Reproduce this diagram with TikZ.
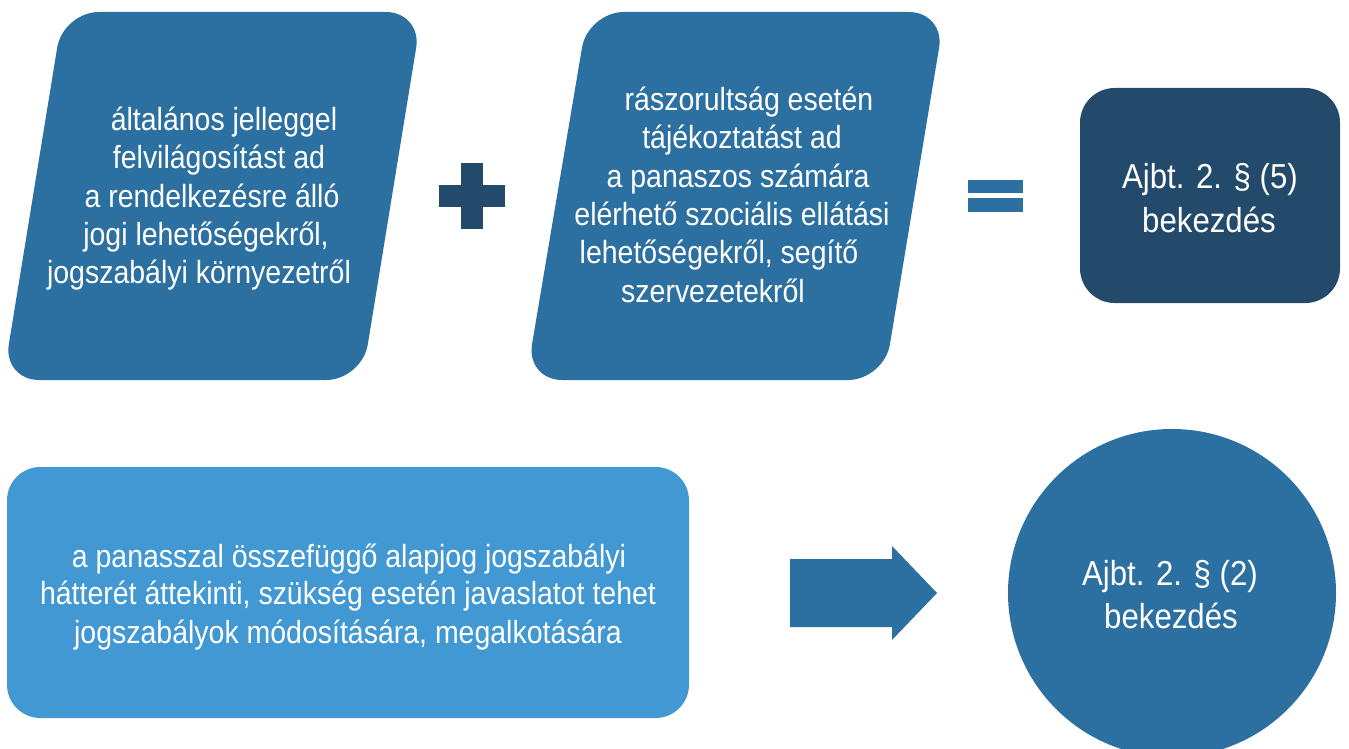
\documentclass[tikz,border=0pt]{standalone}
\usepackage{fontspec}
\setmainfont{Liberation Sans}[FakeStretch=0.89]
\newfontfamily\lblfont{Liberation Sans}[FakeStretch=0.9]
\definecolor{midblue}{HTML}{2C6FA1}
\definecolor{navy}{HTML}{234A6B}
\definecolor{lightblue}{HTML}{4298D2}
\begin{document}
\begin{tikzpicture}[x=0.75pt,y=-0.75pt,
  txt/.style={text=white,font=\fontsize{24}{28}\selectfont,anchor=base,inner sep=0pt},
  lbl/.style={text=white,font=\lblfont\fontsize{26}{30}\selectfont,anchor=base,inner sep=0pt},
  boxshape/.style={inner sep=0pt,draw=none}]
\useasboundingbox (0,0) rectangle (1349,749);
% parallelogram 1
\fill[midblue, rounded corners=27pt] (240,12) -- (422,12) -- (362,380) -- (3,380) -- (63,12) -- cycle;
% parallelogram 2
\fill[midblue, rounded corners=27pt] (760,12) -- (945,12) -- (884,380) -- (526,380) -- (588,12) -- cycle;
% plus
\fill[navy] (439,185) rectangle (505,207);
\fill[navy] (461,163) rectangle (483,229);
% equals
\fill[midblue] (968,180) rectangle (1023,193);
\fill[midblue] (968,198) rectangle (1023,212);
% result box 1
\node[boxshape, fill=navy, rounded corners=26pt, minimum width=195pt, minimum height=161.25pt] (res1) at (1210,195.5) {};
% bottom box
\node[boxshape, fill=lightblue, rounded corners=25pt, minimum width=511.5pt, minimum height=188.25pt] (bot) at (348,592.5) {};
% arrow
\fill[midblue] (790,559) -- (892,559) -- (892,546) -- (937,593) -- (892,640) -- (892,627) -- (790,627) -- cycle;
% circle
\node[boxshape, circle, fill=midblue, minimum size=246pt] (res2) at (1172,593) {};
% texts parallelogram 1
\node[txt] (a1) at (224,130) {általános jelleggel};
\node[txt] (a2) at (219,168) {felvilágosítást ad};
\node[txt] (a3) at (212,207) {a rendelkezésre álló};
\node[txt] (a4) at (206,245) {jogi lehetőségekről,};
\node[txt] (a5) at (199,283) {jogszabályi környezetről};
% texts parallelogram 2
\node[txt] (b1) at (749,110) {rászorultság esetén};
\node[txt] (b2) at (742,148) {tájékoztatást ad};
\node[txt] (b3) at (738,187) {a panaszos számára};
\node[txt] (b4) at (732,225) {elérhető szociális ellátási};
\node[txt] (b5) at (719,263) {lehetőségekről, segítő};
\node[txt] (b6) at (713,302) {szervezetekről};
% result labels
\node[lbl] (r1a) at (1210,188) {Ajbt. 2. § (5)};
\node[lbl] (r1b) at (1209,232) {bekezdés};
\node[lbl] (r2a) at (1170,585) {Ajbt. 2. § (2)};
\node[lbl] (r2b) at (1171,628) {bekezdés};
% bottom texts
\node[txt] (c1) at (349,567) {a panasszal összefüggő alapjog jogszabályi};
\node[txt] (c2) at (348,604) {hátterét áttekinti, szükség esetén javaslatot tehet};
\node[txt] (c3) at (348,643) {jogszabályok módosítására, megalkotására};
\end{tikzpicture}
\end{document}
